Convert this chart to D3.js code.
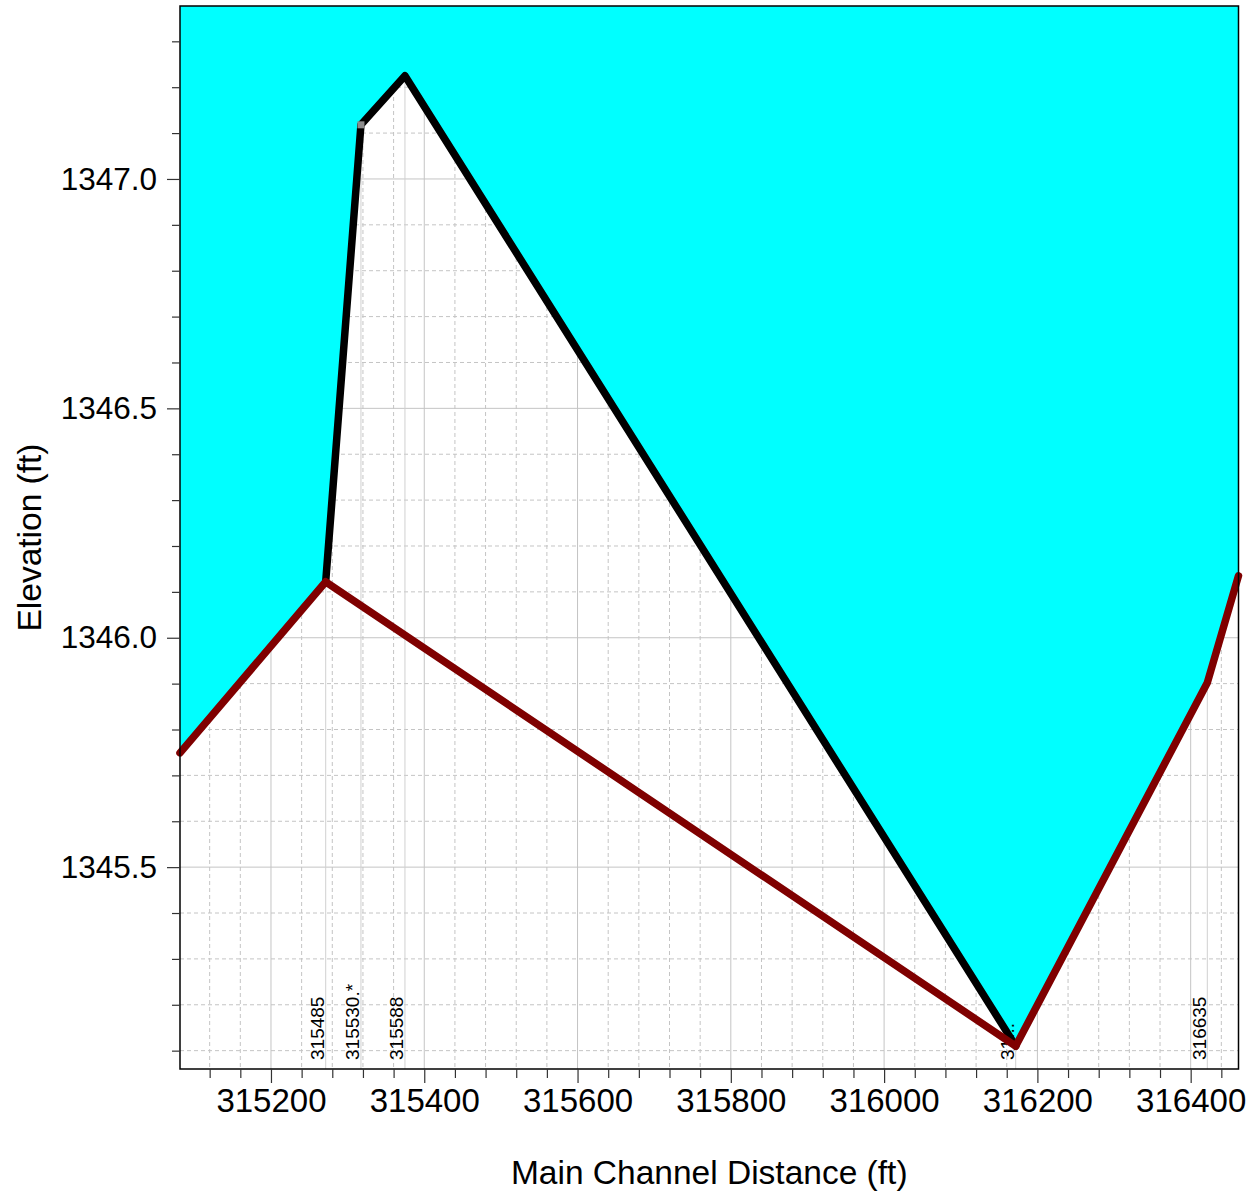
<!DOCTYPE html>
<html><head><meta charset="utf-8">
<script src="https://cdn.jsdelivr.net/npm/d3@7"></script>
<style>
html,body{margin:0;padding:0;background:#fff;}
svg{display:block;font-family:"Liberation Sans",Arial,sans-serif;}
</style></head>
<body>
<svg id="c" width="1253" height="1193"></svg>
<script>
// ---- data ----
const bedDist = [315081.3, 315271.4, 316171.7, 316421.7, 316462.4];
const bedElev = [1345.749, 1346.122, 1345.110, 1345.902, 1346.135];
const wsDist = [315271.4, 315317.4, 315374.8, 316171.7];
const wsElev = [1346.122, 1347.118, 1347.225, 1345.110];
const stationDist = [315271.4, 315317.4, 315374.8, 316171.7, 316421.7];
const stationNames = ["315485", "315530.*", "315588", "31...", "316635"];
const markerDist = [315317.4];
const markerElev = [1347.118];
const xMajorTicks = [315200, 315400, 315600, 315800, 316000, 316200, 316400];
const xMinorTicks = [315120,315160,315240,315280,315320,315360,315440,315480,315520,315560,315640,315680,315720,315760,315840,315880,315920,315960,316040,316080,316120,316160,316240,316280,316320,316360,316440];
const yMajorTicks = [1345.5, 1346.0, 1346.5, 1347.0];
const yMinorTicks = [1345.1,1345.2,1345.3,1345.4,1345.6,1345.7,1345.8,1345.9,1346.1,1346.2,1346.3,1346.4,1346.6,1346.7,1346.8,1346.9,1347.1,1347.2,1347.3];
const yDomain = [1345.06, 1347.377];
const xTitle = "Main Channel Distance (ft)";
const yTitle = "Elevation (ft)";

// ---- layout ----
const L = 180, R = 1238.5, T = 6, B = 1069;
const svg = d3.select("#c");
const x = d3.scaleLinear().domain([bedDist[0], bedDist[bedDist.length-1]]).range([L, R]);
const y = d3.scaleLinear().domain(yDomain).range([B, T]);

const bed = bedDist.map((d,i)=>[d, bedElev[i]]);
const ws = wsDist.map((d,i)=>[d, wsElev[i]]);

// grid
const g = svg.append("g");
g.selectAll(".vmin").data(xMinorTicks).join("line")
  .attr("x1", d=>x(d)).attr("x2", d=>x(d)).attr("y1", T).attr("y2", B)
  .attr("stroke", "#c4c4c4").attr("stroke-dasharray", "4,3");
g.selectAll(".hmin").data(yMinorTicks).join("line")
  .attr("y1", d=>y(d)).attr("y2", d=>y(d)).attr("x1", L).attr("x2", R)
  .attr("stroke", "#c4c4c4").attr("stroke-dasharray", "4,3");
g.selectAll(".vmaj").data(xMajorTicks).join("line")
  .attr("x1", d=>x(d)).attr("x2", d=>x(d)).attr("y1", T).attr("y2", B)
  .attr("stroke", "#c4c4c4");
g.selectAll(".hmaj").data(yMajorTicks).join("line")
  .attr("y1", d=>y(d)).attr("y2", d=>y(d)).attr("x1", L).attr("x2", R)
  .attr("stroke", "#c4c4c4");
g.selectAll(".st").data(stationDist).join("line")
  .attr("x1", d=>x(d)).attr("x2", d=>x(d)).attr("y1", T).attr("y2", B)
  .attr("stroke", "#d0d0d0");

// cyan fill above upper envelope
const env = [
  ...bed.filter(p=>p[0] < wsDist[0]),
  ...ws,
  ...bed.filter(p=>p[0] > wsDist[wsDist.length-1])
];
const poly = [[env[0][0], yDomain[1]], ...env, [env[env.length-1][0], yDomain[1]]];
svg.append("path")
  .attr("d", d3.line().x(d=>x(d[0])).y(d=>y(d[1]))(poly) + "Z")
  .attr("fill", "#00ffff");

// station labels
svg.selectAll(".stl").data(stationDist).join("text")
  .attr("transform", d=>`translate(${x(d)-1.5},1060) rotate(-90)`)
  .attr("font-size", 19).attr("fill", "#000")
  .text((d,i)=>stationNames[i]);

// lines
const line = d3.line().x(d=>x(d[0])).y(d=>y(d[1]));
svg.append("path").attr("d", line(ws)).attr("fill","none")
  .attr("stroke","#000").attr("stroke-width",7.5).attr("stroke-linejoin","round").attr("stroke-linecap","round");
svg.append("path").attr("d", line(bed)).attr("fill","none")
  .attr("stroke","#7f0000").attr("stroke-width",7.5).attr("stroke-linejoin","round").attr("stroke-linecap","round");
svg.selectAll(".mk").data(markerDist).join("rect")
  .attr("x", d=>x(d)-3.5).attr("y", (d,i)=>y(markerElev[i])-3.5)
  .attr("width",7).attr("height",7).attr("fill","#8c8c8c");

// frame
svg.append("rect").attr("x",L).attr("y",T).attr("width",R-L).attr("height",B-T)
  .attr("fill","none").attr("stroke","#000").attr("stroke-width",1.5);

// axes
const xa = svg.append("g").attr("transform",`translate(0,${B})`)
  .call(d3.axisBottom(x).tickValues(xMajorTicks).tickSize(14).tickPadding(6).tickFormat(d3.format("d")));
const xm = svg.append("g").attr("transform",`translate(0,${B})`)
  .call(d3.axisBottom(x).tickValues(xMinorTicks).tickSize(9).tickFormat(""));
const ya = svg.append("g").attr("transform",`translate(${L},0)`)
  .call(d3.axisLeft(y).tickValues(yMajorTicks).tickSize(13).tickPadding(10).tickFormat(d3.format(".1f")));
const ym = svg.append("g").attr("transform",`translate(${L},0)`)
  .call(d3.axisLeft(y).tickValues(yMinorTicks).tickSize(8).tickFormat(""));
[xa,xm,ya,ym].forEach(a=>{
  a.select(".domain").remove();
  a.selectAll(".tick line").attr("stroke","#333").attr("stroke-width",1.2);
  a.selectAll("text").attr("fill","#000").attr("font-family",'"Liberation Sans",Arial,sans-serif');
});
xa.selectAll("text").attr("font-size",33);
ya.selectAll("text").attr("font-size",31.5);

// titles
svg.append("text").attr("x",(L+R)/2).attr("y",1184).attr("text-anchor","middle")
  .attr("font-size",33.5).attr("fill","#000").text(xTitle);
svg.append("text").attr("transform",`translate(41,${(T+B)/2}) rotate(-90)`).attr("text-anchor","middle")
  .attr("font-size",33.5).attr("fill","#000").text(yTitle);
</script>
</body></html>
